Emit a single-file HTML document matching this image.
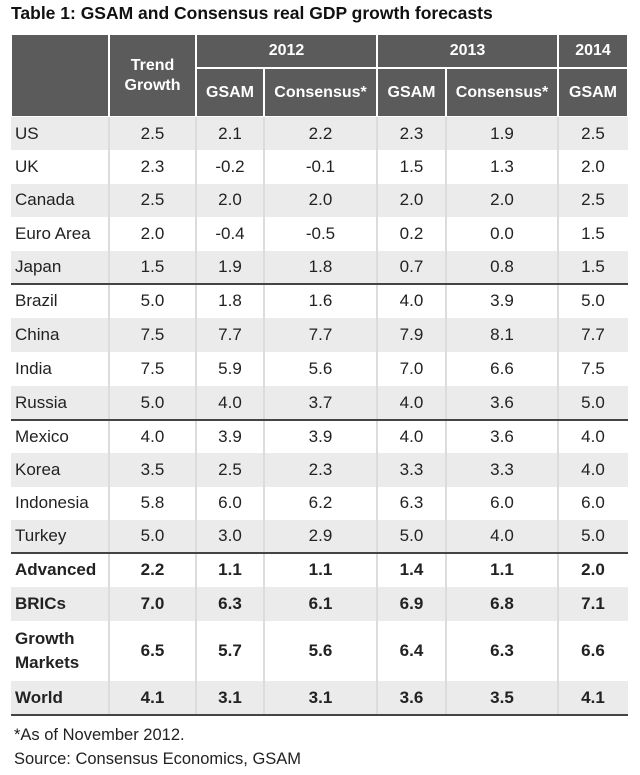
<!DOCTYPE html>
<html><head><meta charset="utf-8"><style>
body{margin:0;width:640px;height:775px;background:#fff;font-family:"Liberation Sans",Arial,sans-serif;position:relative;overflow:hidden}
#title{position:absolute;left:11px;top:3px;font-size:17.5px;font-weight:bold;color:#111;white-space:nowrap}
#tbl{position:absolute;left:11px;top:34px;width:617px}
.c{position:absolute;box-sizing:border-box;display:flex;align-items:center;justify-content:center;text-align:center;font-size:17px;color:#222}
.h{background:#5b5b5b;color:#fff;font-weight:bold;border:1.5px solid #fff;font-size:16px;line-height:20px}
.lbl{justify-content:flex-start;text-align:left;padding-left:4px}
.vl{position:absolute;width:2px;background:#dcdcdc}
.sep{position:absolute;left:0;width:617px;height:2px;background:#444}
.foot{position:absolute;left:14px;font-size:16.5px;color:#222}
</style></head><body>
<div id="title">Table 1: GSAM and Consensus real GDP growth forecasts</div>
<div id="tbl"></div>
<div class="foot" style="top:726px">*As of November 2012.</div>
<div class="foot" style="top:750px">Source: Consensus Economics, GSAM</div>
<script>
const countries=["US","UK","Canada","Euro Area","Japan","Brazil","China","India","Russia","Mexico","Korea","Indonesia","Turkey","Advanced","BRICs","Growth<br>Markets","World"];
const trend=["2.5","2.3","2.5","2.0","1.5","5.0","7.5","7.5","5.0","4.0","3.5","5.8","5.0","2.2","7.0","6.5","4.1"];
const gsam12=["2.1","-0.2","2.0","-0.4","1.9","1.8","7.7","5.9","4.0","3.9","2.5","6.0","3.0","1.1","6.3","5.7","3.1"];
const cons12=["2.2","-0.1","2.0","-0.5","1.8","1.6","7.7","5.6","3.7","3.9","2.3","6.2","2.9","1.1","6.1","5.6","3.1"];
const gsam13=["2.3","1.5","2.0","0.2","0.7","4.0","7.9","7.0","4.0","4.0","3.3","6.3","5.0","1.4","6.9","6.4","3.6"];
const cons13=["1.9","1.3","2.0","0.0","0.8","3.9","8.1","6.6","3.6","3.6","3.3","6.0","4.0","1.1","6.8","6.3","3.5"];
const gsam14=["2.5","2.0","2.5","1.5","1.5","5.0","7.7","7.5","5.0","4.0","4.0","6.0","5.0","2.0","7.1","6.6","4.1"];
const T=document.getElementById('tbl');
const cx=[0,98,185,253,366,435,547,617];
const rowTop=[83,116.4,149.8,183.2,216.6,250,284,318,352,386,419.25,452.5,485.75,519,553,587,647,681];
function cell(x,y,w,h,html,cls,name,inter){const d=document.createElement('div');d.className='c '+cls;d.style.left=x+'px';d.style.top=y+'px';d.style.width=w+'px';d.style.height=h+'px';d.innerHTML=html;


T.appendChild(d);return d;}
cell(0,0,98,83,'','h','header-blank','false');
cell(98,0,87,83,'Trend<br>Growth','h','header-trend-growth','false');
cell(185,0,181,34,'2012','h','header-2012','false');
cell(366,0,181,34,'2013','h','header-2013','false');
cell(547,0,70,34,'2014','h','header-2014','false');
const sub=[['GSAM',185,68],['Consensus*',253,113],['GSAM',366,69],['Consensus*',435,112],['GSAM',547,70]];
sub.forEach((s,i)=>{cell(s[1],34,s[2],49,s[0],'h','subheader-'+i,'false');});
const cols=[trend,gsam12,cons12,gsam13,cons13,gsam14];
countries.forEach((c,i)=>{
  const y=rowTop[i],h=rowTop[i+1]-y,bold=i>=13;
  const bg=document.createElement('div');bg.style.cssText='position:absolute;left:0;width:617px;top:'+y+'px;height:'+h+'px;background:'+(i%2==0?'#ebebeb':'#fff');
  
  
  T.appendChild(bg);
  const l=cell(0,y,98,h,'<span>'+c+'</span>','lbl','row-label',"false");if(bold){l.style.fontWeight='bold';l.style.lineHeight='24px';}
  cols.forEach((arr,j)=>{const d=cell(cx[j+1],y,cx[j+2]-cx[j+1],h,arr[i],'','value-cell','false');if(bold)d.style.fontWeight='bold';});
});
[98,185,253,366,435,547].forEach(x=>{const v=document.createElement('div');v.className='vl';v.style.left=(x-1)+'px';v.style.top='83px';v.style.height='598px';


T.appendChild(v);});
[250,386,519,681].forEach(y=>{const s=document.createElement('div');s.className='sep';s.style.top=(y-1)+'px';


T.appendChild(s);});
</script>
</body></html>
